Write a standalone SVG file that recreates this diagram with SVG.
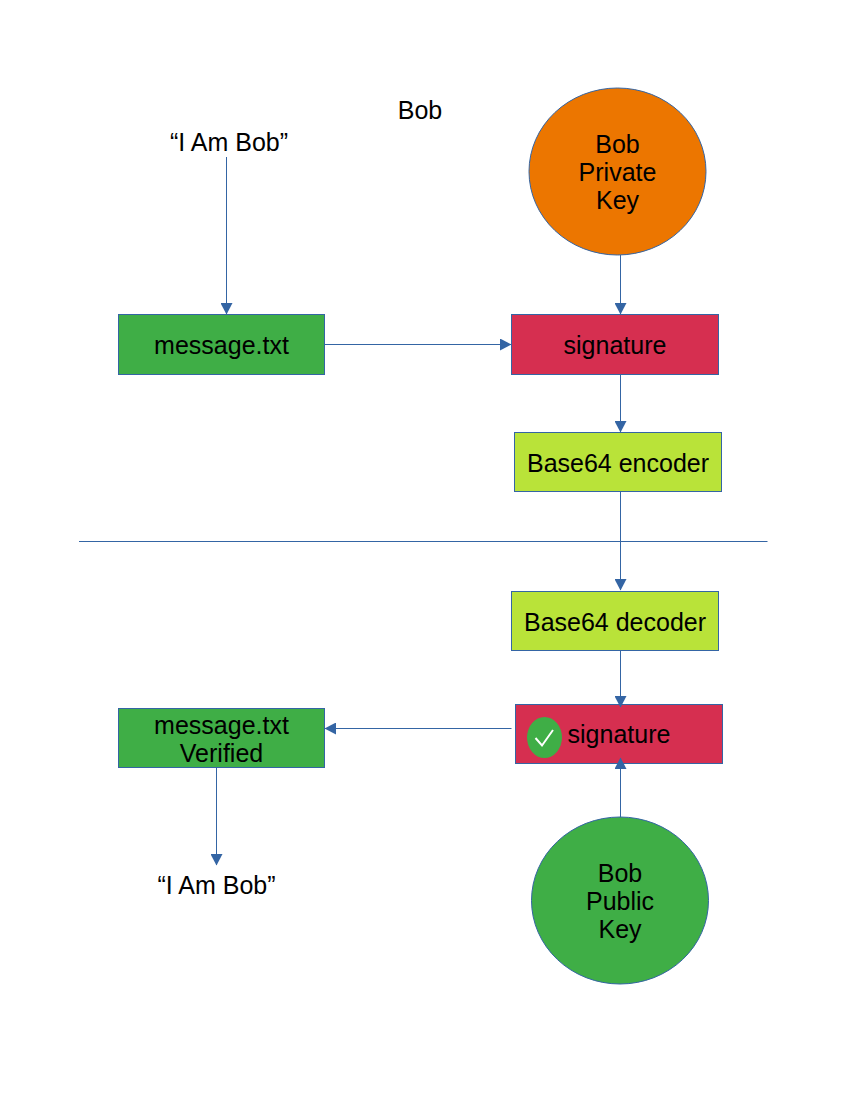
<svg xmlns="http://www.w3.org/2000/svg" width="850" height="1100" viewBox="0 0 850 1100">
<style>
text{font-family:"Liberation Sans",Arial,sans-serif;font-size:25px;fill:#000;text-anchor:middle}
.s{stroke:#3465a4;stroke-width:1}
.c{fill:none;stroke:#3465a4;stroke-width:1}
</style>
<defs>
<marker id="a" markerUnits="userSpaceOnUse" markerWidth="12" markerHeight="12" refX="11" refY="6" orient="auto"><path d="M0 0L11.500 6L0 12Z" fill="#3465a4"/></marker>
</defs>
<rect width="850" height="1100" fill="#fff"/>
<g id="title"><text x="420" y="118.500">Bob</text></g>
<g id="msg-top"><text x="229" y="151">“I Am Bob”</text></g>
<g id="private-key"><ellipse class="s" cx="617.500" cy="171.500" rx="88.500" ry="83.500" fill="#ec7600"/><text x="617.500" y="152.500">Bob</text><text x="617.500" y="180.500">Private</text><text x="617.500" y="208.500">Key</text></g>
<g id="message"><rect class="s" x="118.500" y="314.500" width="206" height="60" fill="#3fae46"/><text x="221.500" y="353.500">message.txt</text></g>
<g id="signature"><rect class="s" x="511.500" y="314.500" width="207" height="60" fill="#d62f50"/><text x="615" y="353.500">signature</text></g>
<g id="encoder"><rect class="s" x="514.500" y="432.500" width="207" height="59" fill="#b9e339"/><text x="618" y="471.500">Base64 encoder</text></g>
<g id="decoder"><rect class="s" x="511.500" y="591.500" width="207" height="59" fill="#b9e339"/><text x="615" y="630.500">Base64 decoder</text></g>
<g id="signature-verified"><rect class="s" x="515.500" y="704.500" width="207" height="59" fill="#d62f50"/><ellipse cx="544.500" cy="737.500" rx="17.500" ry="20.500" fill="#3fae46"/><path d="M535.500 738L542 745.500L553 730" fill="none" stroke="#fff" stroke-width="2"/><text x="619" y="743">signature</text></g>
<g id="message-verified"><rect class="s" x="118.500" y="708.500" width="206" height="59" fill="#3fae46"/><text x="221.500" y="733.500">message.txt</text><text x="221.500" y="761.500">Verified</text></g>
<g id="msg-bottom"><text x="216.500" y="894">“I Am Bob”</text></g>
<g id="public-key"><ellipse class="s" cx="620" cy="900.500" rx="88.500" ry="83.500" fill="#3fae46"/><text x="620" y="882">Bob</text><text x="620" y="910">Public</text><text x="620" y="938">Key</text></g>
<g id="connectors">
<path class="c" d="M226.500 157V314" marker-end="url(#a)"/>
<path class="c" d="M620.500 255V314" marker-end="url(#a)"/>
<path class="c" d="M325 344.500H511" marker-end="url(#a)"/>
<path class="c" d="M620.500 374V432" marker-end="url(#a)"/>
<path class="c" d="M620.500 491V590" marker-end="url(#a)"/>
<path class="c" d="M79 541.500H767.500"/>
<path class="c" d="M620.500 650V707" marker-end="url(#a)"/>
<path class="c" d="M511.500 728.500H325" marker-end="url(#a)"/>
<path class="c" d="M620.500 817V758" marker-end="url(#a)"/>
<path class="c" d="M216.500 767V865" marker-end="url(#a)"/>
</g>
</svg>
